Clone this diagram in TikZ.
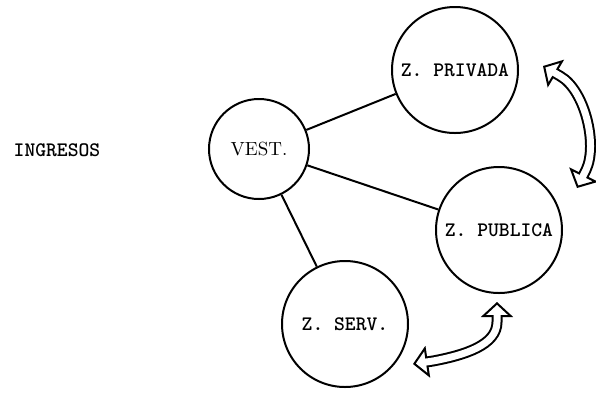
\documentclass[tikz,border=0pt]{standalone}
\usepackage{tikz}
\usetikzlibrary{arrows.meta,positioning}
\tikzset{zona/.style={draw,circle,line width=1pt,inner sep=1pt,minimum size=63pt,font=\ttfamily\bfseries\fontsize{10.3}{12}\selectfont}}
\tikzstyle{hueca}=[line width=5.5pt, {Triangle[open,length=7.5pt,width=16pt,line width=1pt]}-{Triangle[open,length=7.5pt,width=16pt,line width=1pt]}]
\tikzstyle{huecob}=[white, line width=3.5pt, shorten <=5.5pt, shorten >=5.5pt]

\begin{document}
\begin{tikzpicture}[x=0.5pt, y=-0.5pt, line width=1pt]
\useasboundingbox (0,0) rectangle (596,393);
\node[font=\ttfamily\bfseries\fontsize{10.3}{12}\selectfont] (I0) at (57,150) {INGRESOS};
\node[zona, minimum size=50pt, font=\rmfamily\fontsize{9.5}{11}\selectfont] (V0) at (259,149) {VEST.};
\node[zona] (Z1) at (455,70) {Z. PRIVADA};
\node[zona] (Z2) at (499,230) {Z. PUBLICA};
\node[zona] (Z3) at (345,324) {Z. SERV.};
\path (V0) edge (Z1)
           edge (Z2)
           edge (Z3);
% flechas dobles
\coordinate (A1) at (543,66);
\coordinate (A2) at (577,188);
\coordinate (A3) at (497,302);
\coordinate (A4) at (413,364);
\draw[hueca] (A1) -- (560,76) .. controls (585,90) and (598,145) .. (586,170) -- (A2);
\draw[huecob] (A1) -- (560,76) .. controls (585,90) and (598,145) .. (586,170) -- (A2);
\draw[hueca] (A3) -- (497,322) .. controls (497,345) and (465,355) .. (433,361) -- (A4);
\draw[huecob] (A3) -- (497,322) .. controls (497,345) and (465,355) .. (433,361) -- (A4);
\end{tikzpicture}
\end{document}
